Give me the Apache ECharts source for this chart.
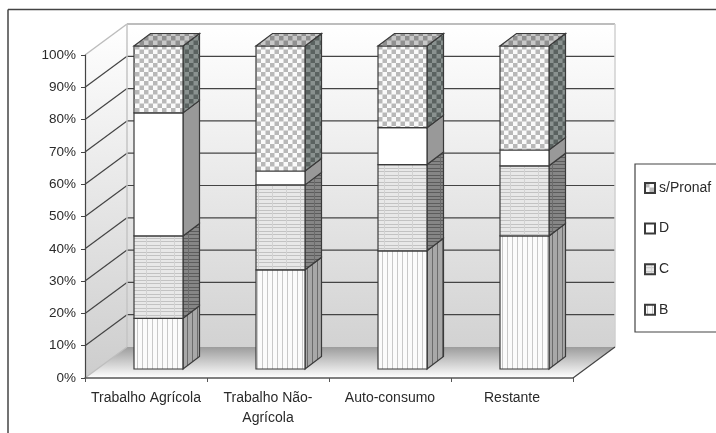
<!DOCTYPE html>
<html>
<head>
<meta charset="utf-8">
<style>
  html, body { margin: 0; padding: 0; background: #fff; }
  #chart { width: 716px; height: 433px; }
</style>
<script src="https://cdn.jsdelivr.net/npm/echarts@6/dist/echarts.min.js"></script>
</head>
<body>
<div id="chart"></div>
<script>
const categories = ['Trabalho Agrícola', 'Trabalho Não-\nAgrícola', 'Auto-consumo', 'Restante'];
const valuesB = [15.7, 30.7, 36.6, 41.2];
const valuesC = [25.5, 26.3, 26.7, 21.7];
const valuesD = [38.1, 4.3, 11.4, 4.9];
const valuesS = [20.7, 38.7, 25.3, 32.2];
const yTicks = [10, 20, 30, 40, 50, 60, 70, 80, 90, 100];
const legendNames = ['s/Pronaf', 'D', 'C', 'B'];

// depth of the fake 3D box and of the bars, in px
const WALL_DX = 42, WALL_DY = -31;
const BAR_SHIFT_X = 12.5, BAR_SHIFT_Y = -9;
const BAR_DX = 16.5, BAR_DY = -12.5;
const BAR_WIDTH = 49;
const EDGE = '#3a3a3a';

function makePattern(w, h, draw) {
  const c = document.createElement('canvas');
  c.width = w;
  c.height = h;
  draw(c.getContext('2d'));
  return { image: c, repeat: 'repeat' };
}

function checker(light, dark) {
  return makePattern(9, 9, ctx => {
    ctx.fillStyle = light;
    ctx.fillRect(0, 0, 9, 9);
    ctx.fillStyle = dark;
    ctx.fillRect(0, 0, 4.5, 4.5);
    ctx.fillRect(4.5, 4.5, 4.5, 4.5);
  });
}

function hatchC(base, line, vline) {
  return makePattern(14, 7, ctx => {
    ctx.fillStyle = base;
    ctx.fillRect(0, 0, 14, 7);
    ctx.fillStyle = line;
    ctx.fillRect(0, 0, 14, 1);
    ctx.fillRect(0, 3, 14, 1);
    ctx.fillStyle = vline;
    ctx.fillRect(6, 0, 1, 7);
  });
}

function hatchB(base, line) {
  return makePattern(5, 4, ctx => {
    ctx.fillStyle = base;
    ctx.fillRect(0, 0, 5, 4);
    ctx.fillStyle = line;
    ctx.fillRect(2, 0, 1, 4);
  });
}

const fills = {
  B: { front: hatchB('#fbfbfb', '#c8c8c8'), side: hatchB('#a8a8a8', '#6c6c6c'), top: '#aaaaaa' },
  C: { front: hatchC('#e8e8e8', '#c2c2c2', '#d2d2d2'), side: hatchC('#868686', '#5c5c5c', '#6c6c6c'), top: '#9a9a9a' },
  D: { front: '#ffffff', side: '#999999', top: '#bbbbbb' },
  S: { front: checker('#fafafa', '#b8b8b8'), side: checker('#8a9290', '#5a6260'), top: checker('#c8c8c8', '#909090') }
};

function poly(points, fill, stroke, lineWidth) {
  return {
    type: 'polygon',
    shape: { points: points },
    style: { fill: fill, stroke: stroke || null, lineWidth: lineWidth || 0 }
  };
}

function vGrad(c1, c2) {
  return { type: 'linear', x: 0, y: 0, x2: 0, y2: 1, colorStops: [{ offset: 0, color: c1 }, { offset: 1, color: c2 }] };
}

// walls, floor and gridlines of the box
function renderBox(params, api) {
  const s = params.coordSys;
  const l = s.x, r = s.x + s.width, t = s.y, b = s.y + s.height;
  const dx = WALL_DX, dy = WALL_DY;
  const kids = [
    poly([[l, b], [l + dx, b + dy], [l + dx, t + dy], [l, t]], vGrad('#ffffff', '#cdcdcd')),
    poly([[l + dx, t + dy], [r + dx, t + dy], [r + dx, b + dy], [l + dx, b + dy]], vGrad('#ffffff', '#d2d2d2')),
    poly([[l, b], [l + dx, b + dy], [r + dx, b + dy], [r, b]], vGrad('#9c9c9c', '#ffffff'))
  ];
  const line = (x1, y1, x2, y2, color, w) => ({
    type: 'line',
    shape: { x1: x1, y1: y1, x2: x2, y2: y2 },
    style: { stroke: color, lineWidth: w || 1.2 }
  });
  yTicks.forEach(v => {
    const y = api.coord([0, v])[1];
    const color = v === 100 ? '#bdbdbd' : '#444444';
    kids.push(line(l, y, l + dx, y + dy, color, v === 100 ? 1.5 : 1.2));
    kids.push(line(l + dx, y + dy, r + dx, y + dy, color, v === 100 ? 1.8 : 1.2));
  });
  kids.push(line(l + dx, t + dy, l + dx, b + dy, '#c4c4c4', 1.5));
  kids.push(line(r + dx, t + dy, r + dx, b + dy, '#d0d0d0', 1.5));
  kids.push(line(l, b, l + dx, b + dy, '#bdbdbd', 1.2));
  kids.push(line(r, b, r + dx, b + dy, '#444444', 1.2));
  return { type: 'group', children: kids };
}

function barRenderer(fill, withTop) {
  return function (params, api) {
    const idx = api.value(0);
    const cx = api.coord([idx, 0])[0] + BAR_SHIFT_X;
    const y1 = api.coord([idx, api.value(2)])[1] + BAR_SHIFT_Y;
    const y2 = api.coord([idx, api.value(1)])[1] + BAR_SHIFT_Y;
    const x1 = cx - BAR_WIDTH / 2, x2 = cx + BAR_WIDTH / 2;
    const kids = [
      poly([[x2, y1], [x2 + BAR_DX, y1 + BAR_DY], [x2 + BAR_DX, y2 + BAR_DY], [x2, y2]], fill.side, EDGE, 1.2),
      poly([[x1, y1], [x2, y1], [x2, y2], [x1, y2]], fill.front, EDGE, 1.2)
    ];
    if (withTop) {
      kids.push(poly([[x1, y2], [x2, y2], [x2 + BAR_DX, y2 + BAR_DY], [x1 + BAR_DX, y2 + BAR_DY]], fill.top, EDGE, 1.2));
    }
    return { type: 'group', children: kids };
  };
}

// [category index, cumulated top, cumulated base]
function stackRows(values, below) {
  return values.map((v, i) => {
    let base = 0;
    below.forEach(arr => { base += arr[i]; });
    return [i, base + v, base];
  });
}

function barSeries(name, values, below, fill, withTop) {
  return {
    name: name,
    type: 'custom',
    coordinateSystem: 'cartesian2d',
    renderItem: barRenderer(fill, withTop),
    data: stackRows(values, below),
    encode: { x: 0, y: 1 },
    itemStyle: { color: fill.front, borderColor: EDGE, borderWidth: 1 },
    clip: false,
    silent: true,
    z: 3
  };
}

const chart = echarts.init(document.getElementById('chart'), null, { renderer: 'canvas' });
const fontFamily = '"Liberation Sans", Arial, sans-serif';

chart.setOption({
  animation: false,
  backgroundColor: '#ffffff',
  grid: { left: 85, right: 143, top: 55, bottom: 55, containLabel: false },
  xAxis: {
    type: 'category',
    data: categories,
    z: 5,
    axisLine: { lineStyle: { color: '#555555', width: 1.5 } },
    axisTick: { show: true, length: 4, lineStyle: { color: '#555555' } },
    axisLabel: { interval: 0, margin: 10, color: '#2a2a2a', fontSize: 14, lineHeight: 20, fontFamily: fontFamily }
  },
  yAxis: {
    type: 'value',
    min: 0,
    max: 100,
    interval: 10,
    z: 5,
    axisLine: { show: true, lineStyle: { color: '#444444', width: 1.2 } },
    axisTick: { show: true, length: 4, lineStyle: { color: '#444444' } },
    splitLine: { show: false },
    axisLabel: { formatter: '{value}%', margin: 9, color: '#2a2a2a', fontSize: 13.5, fontFamily: fontFamily }
  },
  legend: {
    orient: 'vertical',
    left: 644,
    top: 180,
    data: legendNames,
    icon: 'rect',
    itemWidth: 10,
    itemHeight: 10,
    itemGap: 24.6,
    padding: 0,
    selectedMode: false,
    textStyle: { color: '#2a2a2a', fontSize: 14, fontFamily: fontFamily, padding: [0, 0, 0, -1], height: 16, lineHeight: 16 }
  },
  graphic: [
    { type: 'line', z: -1, shape: { x1: 8, y1: 9.5, x2: 8, y2: 433 }, style: { stroke: '#444444', lineWidth: 1.5 } },
    { type: 'line', z: -1, shape: { x1: 8, y1: 9.5, x2: 716, y2: 9.5 }, style: { stroke: '#444444', lineWidth: 1.5 } },
    { type: 'rect', z: -1, shape: { x: 635, y: 164, width: 120, height: 168 }, style: { fill: '#ffffff', stroke: '#444444', lineWidth: 1.2 } }
  ],
  series: [
    {
      type: 'custom',
      coordinateSystem: 'cartesian2d',
      renderItem: renderBox,
      data: [[0, 0]],
      clip: false,
      silent: true,
      z: 1
    },
    barSeries('B', valuesB, [], fills.B, false),
    barSeries('C', valuesC, [valuesB], fills.C, false),
    barSeries('D', valuesD, [valuesB, valuesC], fills.D, false),
    barSeries('s/Pronaf', valuesS, [valuesB, valuesC, valuesD], fills.S, true)
  ]
});
</script>
</body>
</html>
